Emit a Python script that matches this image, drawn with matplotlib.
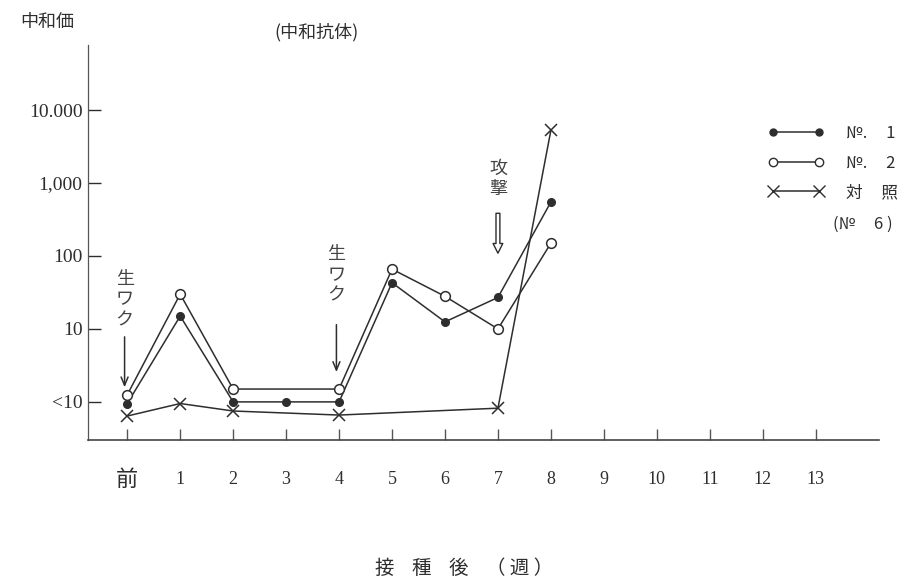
import matplotlib
matplotlib.use("Agg")
import matplotlib.pyplot as plt
from matplotlib.lines import Line2D

plt.rcParams['font.family'] = ['Liberation Serif', 'Noto Sans CJK JP', 'DejaVu Sans']

# ---- data (neutralizing titre; "<10" plotted at 1) ----
week_labels = ["前", "1", "2", "3", "4", "5", "6", "7", "8", "9", "10", "11", "12", "13"]
no1_weeks = [0, 1, 2, 3, 4, 5, 6, 7, 8]
no1_vals = [0.95, 15, 1.0, 1.0, 1.0, 43, 12.5, 27, 550]
no2_weeks = [0, 1, 2, 4, 5, 6, 7, 8]
no2_vals = [1.25, 30, 1.5, 1.5, 66, 28, 10, 150]
ctrl_weeks = [0, 1, 2, 4, 7, 8]
ctrl_vals = [0.64, 0.95, 0.75, 0.66, 0.82, 5300]
ytick_vals = [1, 10, 100, 1000, 10000]
ytick_labels = ["<10", "10", "100", "1,000", "10.000"]

ink = "#2e2e2e"

fig = plt.figure(figsize=(9.2, 5.79), dpi=100)
ax = fig.add_axes([0.0957, 0.240, 0.86, 0.682])
ax.set_yscale('log')
ax.set_xlim(-0.74, 14.2)
ax.set_ylim(0.30, 77600)

ax.plot(no1_weeks, no1_vals, color=ink, lw=1.1, marker='o', ms=5.5,
        mfc=ink, mec=ink)
ax.plot(no2_weeks, no2_vals, color=ink, lw=1.1, marker='o', ms=7,
        mfc='white', mec=ink, mew=1.1)
ax.plot(ctrl_weeks, ctrl_vals, color=ink, lw=1.1, marker='x', ms=8,
        mec=ink, mew=1.1)

for s in ['top', 'right']:
    ax.spines[s].set_visible(False)
ax.spines['left'].set_color('#555555')
ax.spines['bottom'].set_color('#444444')
ax.spines['left'].set_linewidth(0.9)
ax.spines['bottom'].set_linewidth(1.2)

ax.set_yticks(ytick_vals)
ax.set_yticklabels(ytick_labels)
ax.minorticks_off()
ax.tick_params(axis='y', direction='in', length=9, width=1, color=ink,
               labelsize=14, labelcolor=ink, pad=4)
ax.set_xticks(range(len(week_labels)))
ax.set_xticklabels(week_labels)
ax.tick_params(axis='x', direction='in', length=8, width=1, color='#555555',
               labelsize=13, labelcolor=ink, pad=22)
ax.get_xticklabels()[0].set_fontsize(16)

# annotations
cjk = ['Noto Sans CJK JP', 'DejaVu Sans']
for wk, top_v, tail_v, tip_v in [(0, 65, 8.5, 1.45), (4, 140, 12.5, 2.35)]:
    ax.text(wk - 0.05, top_v, "生\nワ\nク", ha='center', va='top', fontsize=13,
            family=cjk, color='#444444', linespacing=1.2)
    ax.annotate("", xy=(wk - 0.05, tip_v), xytext=(wk - 0.05, tail_v),
                arrowprops=dict(arrowstyle='->,head_width=0.25,head_length=0.6',
                                color=ink, lw=1.1))
ax.text(7.0, 2100, "攻\n撃", ha='center', va='top', fontsize=13,
        family=cjk, color='#444444', linespacing=1.2)
ax.annotate("", xy=(7.0, 100), xytext=(7.0, 420),
            arrowprops=dict(arrowstyle='simple,head_width=0.7,head_length=0.7,tail_width=0.28',
                            fc='white', ec=ink, lw=1.0))

# labels
fig.text(0.022, 0.962, "中和価", fontsize=13, family=cjk, color=ink, va='center')
fig.text(0.298, 0.945, "(中和抗体)", fontsize=13, family=cjk, color=ink, va='center')
fig.text(0.505, 0.0, "接    種    後    （ 週 ）", fontsize=14, family=cjk, color=ink,
         ha='center', va='bottom')

# legend
h1 = Line2D([], [], color=ink, lw=1.1, marker='o', ms=5, mfc=ink, mec=ink)
h2 = Line2D([], [], color=ink, lw=1.1, marker='o', ms=6, mfc='white', mec=ink)
h3 = Line2D([], [], color=ink, lw=1.1, marker='x', ms=8, mec=ink)
leg = fig.legend([h1, h2, h3], ["№.     1", "№.     2", "対     照"],
                 loc='upper left', bbox_to_anchor=(0.818, 0.81), frameon=False,
                 numpoints=2, handlelength=3.4, handletextpad=1.3,
                 labelspacing=0.75, prop={'family': cjk, 'size': 12})
for t in leg.get_texts():
    t.set_color(ink)
fig.text(0.905, 0.612, "(№     6 )", fontsize=12, family=cjk, color=ink, va='center')

fig.savefig("out.png", dpi=100)
